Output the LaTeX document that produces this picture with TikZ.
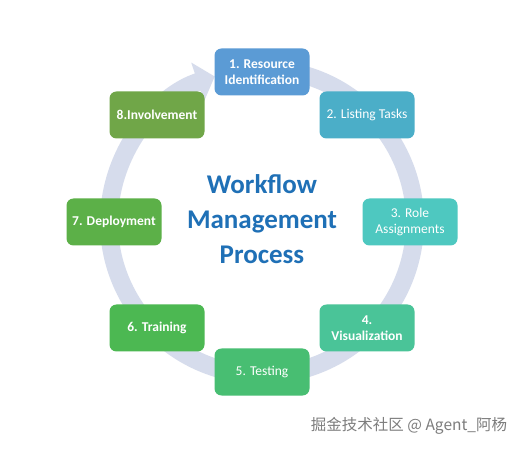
\documentclass[tikz,border=0pt]{standalone}
\usepackage{fontspec}
\setmainfont{Carlito}
\newfontfamily\cjkfont{Noto Sans CJK SC}
\usetikzlibrary{arrows.meta}

\definecolor{ringgray}{RGB}{214,220,236}
\definecolor{titleblue}{RGB}{31,112,182}
\definecolor{markgray}{RGB}{125,125,125}
\definecolor{stepA}{RGB}{91,155,213}
\definecolor{stepB}{RGB}{75,174,200}
\definecolor{stepC}{RGB}{78,200,192}
\definecolor{stepD}{RGB}{74,196,152}
\definecolor{stepE}{RGB}{72,190,114}
\definecolor{stepF}{RGB}{76,184,82}
\definecolor{stepG}{RGB}{92,176,72}
\definecolor{stepH}{RGB}{112,166,72}

\begin{document}
\begin{tikzpicture}[x=1pt, y=1pt,
    stagebox/.style={
        fill=#1,
        rounded corners=7pt,
        minimum width=95pt,
        minimum height=47pt,
        inner sep=2pt,
        align=center,
        text=white,
        font=\fontsize{13.5}{16}\selectfont
    },
    boldbox/.style={
        stagebox=#1,
        font=\fontsize{13.5}{16}\selectfont\bfseries
    },
    ring/.style={
        draw=ringgray,
        line width=18pt
    }
]

%%%%%%%%%%%%%%%%%%%%%%%%
% Lienzo
%%%%%%%%%%%%%%%%%%%%%%%%
\fill[white] (0,0) rectangle (530,450);
\useasboundingbox (0,0) rectangle (530,450);

\coordinate (hub) at (262,228);

%%%%%%%%%%%%%%%%%%%%%%%%
% Anillo con flecha
%%%%%%%%%%%%%%%%%%%%%%%%
\draw[ring, -{Triangle[width=40pt,length=18pt]}]
    (hub) ++(80:153)
    arc[start angle=80, end angle=-252, radius=153];

%%%%%%%%%%%%%%%%%%%%%%%%
% Etapas
%%%%%%%%%%%%%%%%%%%%%%%%
\node[boldbox=stepA] (resid) at (262,378) {1. Resource\\Identification};
\node[stagebox=stepB] (listing) at (367,335) {2. Listing Tasks};
\node[stagebox=stepC] (roles) at (410,228) {3. Role\\Assignments};
\node[boldbox=stepD] (visual) at (367,122) {4.\\Visualization};
\node[stagebox=stepE] (testing) at (262,78) {5. Testing};
\node[boldbox=stepF] (training) at (157,122) {6. Training};
\node[boldbox=stepG] (deploy) at (114,228) {7. Deployment};
\node[boldbox=stepH] (involve) at (157,335) {8.Involvement};

%%%%%%%%%%%%%%%%%%%%%%%%
% Titulo central
%%%%%%%%%%%%%%%%%%%%%%%%
\node[align=center, text=titleblue,
      font=\fontsize{27}{35}\selectfont\bfseries] (title) at (262,231)
    {Workflow\\Management\\Process};

% Marca de agua
\node[text=markgray, font=\cjkfont\fontsize{15.5}{18}\selectfont]
    (mark) at (409,24) {掘金技术社区 @ Agent\_阿杨};

\end{tikzpicture}
\end{document}
